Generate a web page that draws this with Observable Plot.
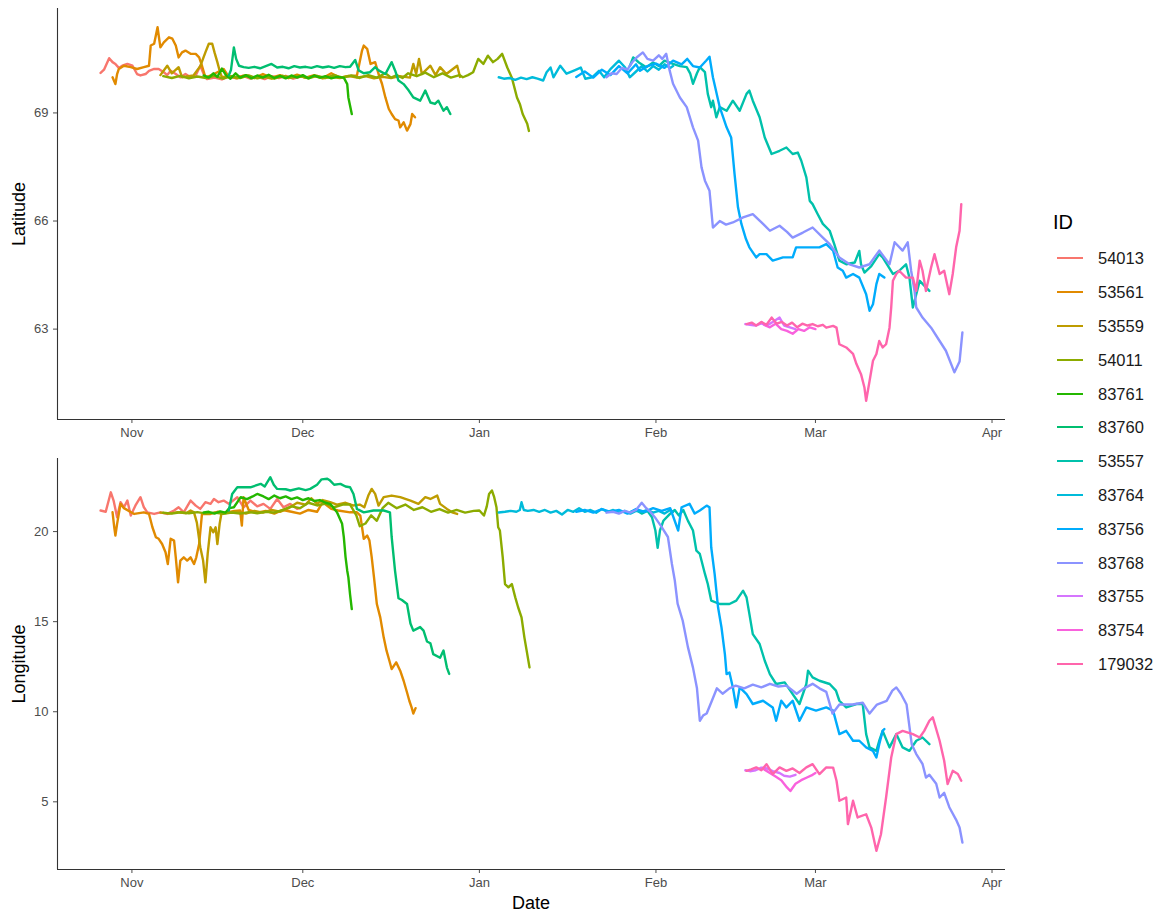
<!DOCTYPE html>
<html><head><meta charset="utf-8">
<script src="https://cdn.jsdelivr.net/npm/d3@7"></script>
<script src="https://cdn.jsdelivr.net/npm/@observablehq/plot@0.6"></script>
<style>
body{margin:0;background:#fff;font-family:"Liberation Sans",Arial,Helvetica,sans-serif;}
#wrap{position:relative;width:1161px;height:913px;overflow:hidden;}
.abs{position:absolute;white-space:nowrap;}
.ttl{font-size:18px;color:#000;line-height:1;}
.lab{font-size:16.5px;color:#1a1a1a;line-height:1;}
.key{position:absolute;height:2px;width:26px;}
</style></head><body><div id="wrap"></div>
<script>
// ---------------- data (days since 2018-11-01, value) ----------------
const ids = ["54013","53561","53559","54011","83761","83760","53557","83764","83756","83768","83755","83754","179032"];
const colors = ["#F8766D","#E18A00","#BE9C00","#8CAB00","#24B700","#00BE70","#00C1AB","#00BBDA","#00ACFC","#8B93FF","#D575FE","#F962DD","#FF65AC"];
const monthTicks = ["2018-11-01","2018-12-01","2019-01-01","2019-02-01","2019-03-01","2019-04-01"];
const latTicks = [63, 66, 69];
const lonTicks = [5, 10, 15, 20];

const lat54013 = [[-5.5,70.11],[-4.9,70.2],[-4.0,70.52],[-3.4,70.41],[-2.9,70.36],[-2.3,70.25],[-1.7,70.31],[-0.8,70.36],[0.1,70.31],[0.9,70.08],[1.5,70.04],[2.4,70.08],[3.0,70.17],[3.9,70.22],[4.7,70.22],[5.6,70.13],[6.2,70.05],[6.8,70.17],[7.7,70.08],[8.5,69.99],[9.4,70.08],[10.3,69.99],[11.2,70.04],[12.0,70.31],[12.6,70.08],[13.2,69.94],[14.5,69.98],[15.8,69.93],[17.0,70.02],[18.3,69.96],[19.5,70.03],[20.8,69.95],[22.0,70.0],[23.3,69.94],[24.5,70.02],[25.8,69.97],[27.0,70.03],[28.3,69.95],[29.5,70.0]];
const lon54013 = [[-5.5,21.17],[-4.6,21.1],[-3.7,22.18],[-3.2,21.7],[-2.6,20.8],[-2.0,21.63],[-1.4,21.35],[-0.8,21.72],[-0.2,20.89],[0.6,21.44],[1.5,21.91],[2.1,21.35],[2.7,21.07],[3.9,20.98],[5.0,21.07],[6.2,20.98],[7.4,21.17],[8.2,21.35],[9.1,21.07],[10.3,21.72],[11.2,21.44],[12.0,21.26],[12.9,21.63],[13.8,21.54],[14.4,21.81],[15.2,21.63],[16.1,21.72],[17.0,21.54],[18.5,21.91],[19.6,21.35],[20.8,21.72],[22.0,21.4],[23.1,21.54],[24.3,21.26],[25.5,21.81],[26.6,21.35],[27.8,21.54],[29.0,21.26],[29.5,21.3]];

const lat53561 = [[-3.4,69.99],[-2.9,69.8],[-2.6,70.08],[-2.3,70.22],[-1.4,70.31],[-0.2,70.27],[0.9,70.22],[2.1,70.27],[3.0,70.31],[3.3,70.87],[3.9,70.92],[4.5,71.38],[4.7,71.15],[5.0,70.82],[5.6,70.96],[6.5,71.1],[7.1,71.06],[7.7,70.87],[8.2,70.54],[8.8,70.68],[9.4,70.73],[10.3,70.64],[11.2,70.64],[11.8,70.54],[12.3,70.31],[12.9,69.99],[14.0,70.05],[15.0,70.13],[16.1,70.22],[17.0,70.0],[18.5,69.99],[20.0,70.05],[21.5,69.97],[23.0,70.08],[24.5,69.98],[26.0,70.05],[27.5,69.97],[29.0,70.06],[30.5,69.98],[32.0,70.05],[33.5,69.97],[35.0,70.1],[36.5,69.98],[38.0,70.02],[39.5,70.04],[40.4,70.73],[40.7,70.87],[41.3,70.78],[41.9,70.36],[42.7,70.41],[43.3,70.08],[43.9,69.81],[44.5,69.43],[45.1,69.11],[45.6,68.97],[46.2,68.83],[46.8,68.79],[47.1,68.6],[47.7,68.74],[48.3,68.51],[48.9,68.69],[49.2,68.97],[49.7,68.88]];
const lon53561 = [[-3.4,21.07],[-3.1,20.24],[-2.9,19.78],[-2.6,20.43],[-2.0,21.54],[-1.4,21.3],[0.4,20.98],[2.1,21.07],[3.0,20.98],[3.6,20.24],[4.2,19.69],[4.7,19.6],[5.3,19.31],[5.9,18.85],[6.3,18.2],[6.8,19.6],[7.4,19.5],[7.7,18.57],[8.1,17.18],[8.5,18.39],[9.1,18.57],[9.7,18.39],[10.3,18.57],[10.9,18.2],[11.3,18.57],[11.8,19.31],[12.3,20.98],[13.8,20.98],[15.0,21.1],[16.5,21.05],[18.0,21.15],[19.0,21.17],[19.3,20.33],[19.6,21.91],[20.5,21.2],[22.0,21.05],[23.5,21.15],[25.0,21.0],[26.5,21.2],[28.0,21.1],[29.5,21.0],[31.0,21.2],[32.5,21.1],[33.5,21.63],[35.0,21.26],[36.2,21.17],[38.3,21.07],[39.5,21.07],[40.1,20.89],[40.7,19.6],[41.3,19.78],[41.7,19.5],[42.1,18.57],[42.5,17.46],[43.0,15.98],[43.6,15.24],[44.2,14.13],[44.7,13.39],[45.2,12.83],[45.6,12.37],[46.4,12.74],[47.1,12.28],[47.7,11.72],[48.3,11.07],[48.7,10.61],[49.1,10.24],[49.4,9.9],[49.8,10.2]];

const lat53559 = [[5.0,70.05],[6.2,70.31],[7.0,70.1],[8.2,70.27],[8.8,69.99],[10.8,70.04],[12.0,70.3],[12.9,70.68],[13.5,70.92],[14.1,70.92],[14.5,70.68],[15.0,70.41],[15.4,70.17],[15.8,69.99],[17.0,70.02],[18.5,69.96],[20.0,70.03],[21.5,69.97],[23.0,70.01],[24.5,69.95],[26.0,70.02],[27.5,69.97],[29.0,70.04],[30.5,69.98],[32.0,70.02],[33.5,69.96],[35.0,70.0],[36.5,69.97],[38.0,70.03],[39.5,69.98],[41.0,70.02],[42.5,69.96],[44.0,70.0],[45.5,69.97],[47.0,70.02],[48.8,69.98],[49.4,70.36],[49.9,70.08],[50.4,70.5],[50.9,70.08],[52.4,70.31],[53.3,70.05],[54.1,70.27],[55.2,70.08],[57.1,70.31],[57.6,70.0]];
const lon53559 = [[5.0,21.05],[6.5,21.0],[8.0,21.08],[9.5,21.02],[10.3,21.17],[10.9,21.07],[11.4,20.5],[12.0,19.13],[12.5,18.39],[12.9,17.18],[13.3,18.76],[13.8,20.24],[14.3,19.96],[14.7,20.24],[15.0,19.31],[15.4,20.43],[15.7,20.98],[17.0,21.05],[18.5,21.1],[20.0,21.0],[21.5,21.15],[23.0,21.05],[24.5,21.2],[26.0,21.1],[27.5,21.3],[29.0,21.6],[30.5,21.5],[31.5,21.85],[32.5,21.55],[33.5,21.75],[34.8,21.63],[36.0,21.5],[37.5,21.6],[38.8,21.45],[40.0,21.5],[40.8,21.35],[41.5,22.0],[42.1,22.37],[42.7,22.09],[43.3,21.44],[44.2,21.91],[45.6,22.0],[47.1,21.91],[48.9,21.72],[50.3,21.54],[51.5,21.91],[52.4,21.81],[53.6,22.0],[54.1,21.54],[55.3,21.26],[56.2,21.07],[57.1,20.98]];

const lat54011 = [[5.5,70.02],[7.0,69.97],[8.5,70.03],[10.0,69.96],[11.5,70.01],[13.0,69.97],[14.5,70.03],[16.0,69.95],[17.5,70.02],[19.0,69.97],[20.5,70.04],[22.0,69.96],[23.5,70.01],[25.0,69.95],[26.5,70.03],[28.0,69.98],[29.5,70.02],[31.0,69.96],[32.5,70.03],[34.0,69.97],[35.5,70.05],[37.0,69.98],[38.5,70.04],[40.0,69.97],[41.5,70.05],[43.0,69.98],[44.5,70.1],[45.5,69.98],[46.5,70.05],[47.5,69.97],[48.5,70.1],[50.0,70.02],[51.5,70.12],[53.0,69.99],[54.5,70.1],[56.0,69.98],[57.5,70.05],[58.1,69.99],[59.0,70.05],[59.9,70.13],[60.8,70.5],[61.7,70.36],[62.5,70.59],[63.4,70.41],[64.2,70.5],[65.0,70.64],[65.9,70.26],[66.7,69.98],[67.6,69.43],[68.1,69.25],[68.6,68.97],[69.4,68.7],[69.7,68.5]];
const lon54011 = [[5.5,21.05],[7.0,21.0],[8.5,21.07],[10.0,21.02],[11.5,21.08],[13.0,21.0],[14.5,21.05],[16.0,20.98],[17.5,21.06],[19.0,21.0],[20.5,21.08],[22.0,21.02],[23.5,21.1],[25.0,21.05],[26.5,21.2],[28.0,21.4],[29.5,21.3],[31.0,21.6],[32.5,21.45],[34.0,21.55],[35.5,21.35],[37.0,21.5],[38.3,21.5],[39.4,20.9],[40.0,20.3],[41.0,20.45],[42.0,20.9],[43.0,20.6],[44.0,21.3],[45.0,21.6],[46.5,21.3],[48.0,21.5],[49.5,21.2],[51.0,21.35],[52.5,21.1],[54.0,21.25],[55.5,21.05],[57.0,21.2],[58.5,21.05],[60.0,21.15],[61.0,21.17],[61.8,20.89],[62.3,21.4],[62.7,22.09],[63.2,22.28],[63.6,21.91],[64.0,21.35],[64.3,20.24],[64.6,20.06],[65.1,18.57],[65.5,17.09],[66.1,16.91],[66.7,17.09],[67.3,16.35],[67.8,15.8],[68.4,15.24],[68.9,14.13],[69.3,13.39],[69.8,12.46]];

const lat83761 = [[12.6,70.04],[13.5,69.98],[14.3,70.1],[15.0,70.0],[15.8,70.23],[16.5,70.05],[17.3,69.95],[18.2,70.1],[19.0,69.98],[20.0,70.05],[21.0,69.96],[22.0,70.04],[23.0,69.98],[24.0,70.06],[25.0,69.97],[26.0,70.03],[27.0,69.96],[28.0,70.04],[29.0,69.98],[30.0,70.05],[31.0,69.96],[32.0,70.04],[33.0,69.98],[34.0,70.02],[35.0,69.96],[36.0,70.0],[37.2,69.98],[37.8,69.8],[38.0,69.43],[38.3,69.2],[38.6,68.97]];
const lon83761 = [[12.6,21.06],[13.5,21.1],[14.5,21.0],[15.5,21.12],[16.4,21.05],[17.1,21.3],[17.9,21.35],[19.1,21.91],[20.2,21.8],[21.2,21.95],[22.0,22.09],[23.1,21.95],[24.0,21.8],[25.0,22.0],[26.0,21.85],[27.0,21.95],[28.0,21.8],[29.0,21.9],[30.0,21.75],[31.0,21.85],[32.0,21.7],[33.0,21.75],[34.0,21.6],[34.8,21.54],[36.0,21.07],[36.9,20.43],[37.2,19.69],[37.5,18.6],[37.8,17.83],[38.0,17.46],[38.3,16.5],[38.6,15.7]];

const lat83760 = [[17.0,70.04],[17.4,70.2],[17.9,70.82],[18.3,70.5],[18.8,70.31],[19.6,70.27],[20.5,70.25],[21.5,70.28],[22.5,70.24],[23.5,70.3],[24.5,70.36],[25.5,70.26],[26.5,70.28],[27.5,70.24],[28.5,70.3],[29.5,70.26],[30.5,70.28],[31.5,70.25],[32.5,70.3],[33.5,70.26],[34.5,70.29],[35.5,70.25],[36.5,70.3],[37.5,70.27],[38.3,70.28],[39.2,70.47],[39.8,70.18],[40.7,70.1],[41.8,70.13],[42.7,70.27],[43.3,70.18],[44.5,70.08],[45.6,70.41],[46.2,70.18],[46.8,69.9],[47.7,69.8],[48.6,69.62],[49.4,69.43],[50.6,69.34],[51.5,69.62],[52.4,69.29],[53.2,69.25],[53.8,69.34],[54.7,69.06],[55.3,69.16],[55.9,68.97]];
const lon83760 = [[17.0,21.17],[17.6,22.09],[18.5,22.46],[20.8,22.46],[22.6,22.65],[23.3,22.5],[24.3,23.02],[24.9,22.6],[25.5,22.37],[27.0,22.35],[27.8,22.28],[29.3,22.4],[30.5,22.3],[31.3,22.37],[32.5,22.6],[33.3,22.9],[34.3,22.93],[34.8,22.83],[35.5,22.6],[36.6,22.65],[37.5,22.5],[38.3,22.46],[38.9,22.09],[39.5,21.26],[40.7,21.07],[42.4,21.17],[44.2,21.17],[45.3,21.07],[45.6,19.7],[46.2,17.8],[46.8,16.3],[47.4,16.2],[48.3,15.98],[48.9,14.9],[49.4,14.5],[50.6,14.7],[51.2,14.5],[51.8,13.9],[52.4,13.8],[52.9,13.2],[54.1,13.0],[54.7,13.4],[55.3,12.45],[55.7,12.1]];

const lat53557 = [[87.4,70.3],[88.0,70.54],[89.0,70.4],[90.3,70.27],[91.5,70.4],[92.5,70.3],[93.5,70.45],[95.0,70.36],[96.2,70.3],[97.4,70.27],[98.0,70.1],[98.5,69.81],[99.2,70.1],[99.7,70.27],[100.6,70.13],[101.1,69.53],[101.7,69.16],[102.0,69.34],[102.6,68.88],[103.2,69.16],[104.4,69.06],[105.5,69.34],[106.7,69.06],[107.9,69.53],[108.4,69.62],[109.0,69.34],[110.2,68.88],[111.1,68.32],[112.3,67.86],[113.7,67.95],[114.9,68.04],[116.0,67.86],[116.9,67.9],[117.5,67.68],[118.4,67.21],[119.0,66.56],[119.5,66.47],[120.4,66.19],[121.3,65.92],[122.5,65.73],[123.3,65.36],[124.2,64.9],[125.4,64.8],[126.9,64.85],[127.7,65.17],[128.0,64.8],[128.6,64.57],[129.8,64.75],[131.2,65.08],[131.8,64.99],[133.6,64.53],[134.7,64.62],[135.9,64.8],[136.5,64.43],[137.1,63.6],[138.3,64.34],[139.4,64.16],[140.0,64.06]];
const lon53557 = [[87.4,21.05],[88.5,21.2],[89.5,21.0],[90.5,21.15],[91.3,20.8],[91.9,20.06],[92.3,19.1],[92.7,20.06],[93.3,20.6],[94.5,21.0],[95.3,21.2],[96.0,20.9],[96.8,21.2],[97.6,20.61],[98.5,20.06],[99.1,18.94],[99.7,18.76],[100.6,17.65],[101.1,17.09],[101.7,16.17],[103.2,15.98],[104.9,15.98],[106.1,16.17],[107.3,16.72],[107.9,16.35],[108.4,15.43],[109.0,14.31],[110.2,13.76],[111.1,12.83],[112.0,12.09],[113.1,11.54],[114.6,11.63],[116.0,10.98],[117.2,10.43],[118.4,11.54],[118.7,12.28],[119.5,11.91],[120.7,11.72],[122.5,11.54],[123.6,11.17],[124.2,10.61],[125.4,10.24],[127.2,10.43],[128.3,10.43],[128.9,8.76],[129.5,8.02],[130.7,7.83],[131.2,8.39],[131.8,8.94],[133.0,8.02],[134.2,8.76],[135.3,8.02],[136.5,7.83],[137.7,8.39],[138.8,8.57],[140.0,8.2]];

const lat83764 = [[64.4,69.99],[65.3,69.95],[66.3,69.97],[67.3,69.92],[68.3,69.98],[69.3,69.94],[70.3,69.99],[71.2,69.95],[72.2,69.9],[72.8,70.13],[73.5,70.26],[74.0,69.99],[75.2,70.31],[76.3,70.09],[77.5,70.17],[78.8,70.26],[79.6,69.95],[80.8,69.99],[82.0,70.17],[82.9,69.99],[84.1,70.23],[85.5,70.45],[86.6,70.26],[87.4,69.99],[88.5,70.15],[89.5,70.3],[90.5,70.15],[91.5,70.3],[92.5,70.2],[93.5,70.35],[94.5,70.25],[95.0,70.3]];
const lon83764 = [[64.4,21.06],[65.5,21.1],[66.5,21.15],[67.5,21.1],[68.1,21.2],[68.4,21.63],[68.8,21.2],[69.5,21.15],[70.5,21.2],[71.5,21.1],[72.5,21.2],[73.5,21.05],[74.5,21.15],[75.5,20.95],[76.5,21.2],[77.5,21.1],[78.5,21.3],[79.5,21.1],[80.5,21.2],[81.5,21.05],[82.5,21.25],[83.5,21.1],[84.5,21.2],[85.5,21.05],[86.5,21.15],[87.5,21.0],[88.5,21.15],[89.5,21.1],[90.5,21.2],[91.5,21.05],[92.5,21.15],[93.5,21.0],[94.5,21.2],[95.0,21.1]];

const lat83756 = [[78.0,70.0],[79.5,70.15],[81.0,69.98],[82.5,70.2],[84.0,70.05],[85.5,70.3],[87.0,70.1],[88.5,70.35],[89.2,70.17],[90.5,70.3],[92.0,70.37],[93.5,70.25],[95.0,70.45],[96.5,70.35],[97.5,70.5],[98.5,70.3],[99.7,70.26],[100.8,70.45],[101.4,70.56],[102.0,69.99],[103.2,69.16],[104.4,68.6],[105.2,68.32],[105.8,67.3],[106.4,66.38],[107.0,65.92],[107.8,65.5],[108.4,65.27],[109.6,64.99],[110.2,65.08],[111.4,65.08],[112.5,64.9],[114.3,64.99],[116.0,64.99],[116.6,65.27],[119.0,65.27],[120.7,65.27],[121.9,65.36],[123.1,65.18],[123.9,64.71],[124.8,64.62],[125.4,64.43],[126.6,64.53],[127.7,64.43],[128.9,63.97],[129.5,63.51],[130.1,63.69],[130.7,64.25],[131.2,64.53],[132.1,64.43]];
const lon83756 = [[78.0,21.1],[79.5,21.2],[81.0,21.05],[82.5,21.25],[84.0,21.1],[85.5,21.2],[87.0,21.0],[88.5,21.25],[90.0,21.1],[91.5,21.3],[93.0,21.15],[94.5,21.3],[95.9,20.06],[96.5,21.35],[97.9,21.54],[98.8,21.0],[99.7,21.17],[100.9,21.44],[101.4,21.35],[101.7,19.13],[102.3,17.65],[102.9,15.8],[103.5,14.69],[104.1,13.2],[104.4,12.09],[104.9,12.18],[105.5,11.35],[106.1,10.24],[106.7,11.35],[107.9,10.98],[109.0,10.43],[110.8,10.61],[112.5,10.24],[113.1,9.5],[114.0,10.61],[114.9,10.24],[116.0,10.61],[117.2,9.5],[118.4,10.24],[120.1,10.06],[121.9,10.24],[123.1,10.06],[124.2,8.76],[125.4,8.94],[126.6,8.39],[127.7,8.39],[128.9,8.02],[130.1,7.83],[130.7,7.46],[131.2,8.2],[131.8,8.94],[132.1,9.04]];

const lat83768 = [[83.3,69.99],[84.2,70.1],[85.1,70.08],[86.0,70.25],[87.0,70.2],[87.8,70.4],[88.6,70.54],[89.7,70.68],[90.5,70.5],[91.5,70.45],[92.5,70.6],[93.1,70.5],[93.8,70.64],[94.4,70.18],[95.0,69.81],[96.2,69.43],[97.4,69.16],[98.5,68.6],[99.4,68.23],[100.0,67.49],[100.6,67.12],[101.4,66.84],[102.0,65.82],[103.2,66.0],[104.3,65.9],[105.5,65.96],[107.3,66.1],[109.0,66.19],[110.8,65.92],[112.0,65.73],[113.7,65.87],[115.0,65.7],[116.0,65.54],[117.8,65.68],[119.5,65.82],[121.3,65.54],[122.5,65.36],[124.2,64.99],[126.0,64.8],[127.7,64.71],[129.5,64.8],[131.2,65.18],[133.0,64.8],[133.9,65.41],[135.3,65.18],[136.2,65.41],[136.8,64.62],[137.4,64.06],[137.7,63.6],[138.8,63.32],[140.3,63.04],[141.8,62.67],[142.9,62.4],[144.4,61.8],[145.3,62.1],[145.8,62.91]];
const lon83768 = [[83.3,21.05],[84.5,21.1],[85.5,21.0],[86.5,21.15],[87.5,21.05],[88.5,21.2],[89.5,21.6],[90.3,21.3],[91.0,21.1],[91.8,20.8],[92.9,20.3],[94.1,19.7],[94.8,18.2],[95.3,17.3],[95.8,16.0],[96.7,15.05],[97.6,13.6],[98.5,12.45],[99.2,11.3],[99.7,9.5],[100.3,9.8],[100.9,9.9],[101.8,10.6],[102.7,11.3],[103.7,11.0],[104.9,11.3],[106.0,11.45],[107.5,11.3],[109.0,11.5],[110.5,11.35],[112.0,11.55],[113.5,11.4],[114.9,11.45],[116.7,11.0],[118.0,11.3],[119.5,11.55],[120.7,11.3],[121.9,11.1],[123.0,9.9],[124.2,10.4],[126.5,10.4],[128.3,10.5],[129.5,9.9],[130.8,10.4],[132.5,10.6],[133.5,11.17],[134.2,11.35],[135.0,11.0],[136.0,10.4],[136.9,8.2],[137.7,7.65],[138.8,7.1],[139.4,6.35],[140.0,6.5],[141.2,6.0],[141.8,5.24],[142.6,5.5],[143.5,4.7],[144.7,4.0],[145.3,3.57],[145.8,2.74]];

const lat83755 = [[107.7,63.14],[108.5,63.12],[109.5,63.1],[110.5,63.16],[111.5,63.1],[112.5,63.2],[113.7,63.32],[114.5,63.1],[115.5,63.05],[116.5,63.0]];
const lon83755 = [[107.7,6.75],[108.5,6.7],[109.5,6.75],[110.5,6.9],[111.5,6.85],[112.5,6.7],[113.7,6.6],[114.5,6.45],[115.5,6.4],[116.5,6.5]];

const lat83754 = [[111.0,63.12],[112.0,63.05],[113.0,63.15],[114.0,63.0],[115.0,62.95],[116.0,62.87],[117.0,63.0],[118.0,62.95],[119.0,63.05],[120.0,63.0]];
const lon83754 = [[111.0,6.8],[112.0,6.6],[113.0,6.4],[114.0,6.2],[115.0,5.8],[115.6,5.6],[116.5,6.0],[117.5,6.2],[118.5,6.35],[119.5,6.5],[120.0,6.6]];

const lat179032 = [[107.9,63.14],[108.8,63.18],[109.6,63.1],[110.5,63.2],[111.4,63.12],[112.3,63.32],[113.2,63.15],[114.1,63.2],[115.0,63.1],[115.9,63.18],[116.8,63.05],[117.7,63.15],[118.6,63.1],[119.5,63.14],[120.4,63.08],[121.3,63.12],[121.9,63.04],[123.1,63.09],[123.7,63.04],[124.2,62.58],[125.4,62.49],[126.6,62.31],[127.2,62.03],[128.0,61.75],[128.6,61.38],[128.9,61.01],[129.5,61.56],[130.1,62.12],[130.7,62.31],[131.2,62.67],[131.8,62.49],[132.4,62.58],[133.0,63.04],[133.3,63.6],[133.6,64.34],[134.2,64.53],[134.7,64.62],[135.9,64.43],[137.1,64.43],[137.7,64.06],[138.3,64.9],[138.8,64.62],[139.4,64.06],[140.3,64.71],[140.9,65.08],[141.8,64.53],[142.6,64.62],[143.5,63.97],[144.1,64.53],[144.7,65.27],[145.3,65.73],[145.6,66.47]];
const lon179032 = [[107.9,6.72],[108.7,6.8],[109.6,6.91],[110.5,6.75],[111.4,7.09],[112.5,6.54],[113.7,6.91],[114.9,6.72],[116.0,6.85],[117.2,6.6],[118.4,6.91],[119.5,7.09],[120.7,6.54],[121.9,6.91],[123.1,6.9],[123.7,6.17],[124.2,5.06],[125.4,5.24],[125.7,3.76],[126.6,5.06],[127.4,4.13],[128.9,4.31],[129.8,3.57],[130.7,2.28],[131.5,3.2],[132.4,5.24],[133.3,7.46],[134.2,8.76],[135.3,8.94],[137.1,8.76],[138.3,8.57],[139.1,8.94],[140.0,9.5],[140.6,9.69],[141.8,8.39],[142.6,7.28],[143.2,5.98],[144.1,6.72],[145.0,6.54],[145.6,6.17]];

// ---------------- build tables ----------------
const latById = {"54013":lat54013,"53561":lat53561,"53559":lat53559,"54011":lat54011,"83761":lat83761,"83760":lat83760,"53557":lat53557,"83764":lat83764,"83756":lat83756,"83768":lat83768,"83755":lat83755,"83754":lat83754,"179032":lat179032};
const lonById = {"54013":lon54013,"53561":lon53561,"53559":lon53559,"54011":lon54011,"83761":lon83761,"83760":lon83760,"53557":lon53557,"83764":lon83764,"83756":lon83756,"83768":lon83768,"83755":lon83755,"83754":lon83754,"179032":lon179032};
const baseMs = Date.UTC(2018, 10, 1);
const toDate = d => new Date(baseMs + d * 864e5);
const rowsOf = table => ids.flatMap(id => table[id].map(([d, v]) => ({id, date: toDate(d), value: v})));
const latRows = rowsOf(latById);
const lonRows = rowsOf(lonById);

const [x0, x1] = d3.extent([...latRows, ...lonRows], r => r.date);
const xPad = (x1 - x0) * 0.05;
const xDomain = [new Date(+x0 - xPad), new Date(+x1 + xPad)];
function yDom(rows) { const [a, b] = d3.extent(rows, r => r.value); const p = (b - a) * 0.05; return [a - p, b + p]; }
const tickDates = monthTicks.map(s => new Date(s + "T00:00:00Z"));

function panel(rows, yTicks) {
  const yDomain = yDom(rows);
  return Plot.plot({
    width: 1010, height: 450,
    marginLeft: 57, marginRight: 5, marginTop: 8, marginBottom: 31,
    style: {fontFamily: "'Liberation Sans', Arial, sans-serif", fontSize: "13px", color: "#4d4d4d", background: "transparent", overflow: "visible"},
    x: {type: "utc", domain: xDomain, ticks: tickDates, tickFormat: d3.utcFormat("%b"), tickSize: 4, tickPadding: 4, label: null},
    y: {domain: yDomain, ticks: yTicks, tickSize: 4, tickPadding: 5, label: null},
    color: {domain: ids, range: colors},
    marks: [
      Plot.ruleX([xDomain[0]], {stroke: "#333333", strokeWidth: 1.1}),
      Plot.ruleY([yDomain[0]], {stroke: "#333333", strokeWidth: 1.1}),
      Plot.line(rows, {x: "date", y: "value", z: "id", stroke: "id", strokeWidth: 2.4})
    ]
  });
}

const wrap = document.getElementById("wrap");
const topPanel = panel(latRows, latTicks);
topPanel.style.position = "absolute"; topPanel.style.left = "0px"; topPanel.style.top = "0px";
wrap.appendChild(topPanel);
const botPanel = panel(lonRows, lonTicks);
botPanel.style.position = "absolute"; botPanel.style.left = "0px"; botPanel.style.top = "450px";
wrap.appendChild(botPanel);

function addText(txt, cls, left, topPx, extra) {
  const el = document.createElement("div");
  el.className = "abs " + cls;
  el.textContent = txt;
  el.style.left = left + "px"; el.style.top = topPx + "px";
  el.style.transform = extra || "translateY(-50%)";
  wrap.appendChild(el);
  return el;
}
addText("Latitude", "ttl", 19, 213.5, "translate(-50%,-50%) rotate(-90deg)");
addText("Longitude", "ttl", 19, 663.5, "translate(-50%,-50%) rotate(-90deg)");
addText("Date", "ttl", 531, 903, "translate(-50%,-50%)");

// legend
const idTitle = addText("ID", "ttl", 1053, 221.5);
idTitle.style.fontSize = "20px";
ids.forEach((id, i) => {
  const cy = 258.3 + i * 33.8;
  const k = document.createElement("div");
  k.className = "key";
  k.style.left = "1057px"; k.style.top = (cy - 1) + "px"; k.style.background = colors[i];
  wrap.appendChild(k);
  addText(id, "lab", 1098, cy);
});
</script></body></html>
